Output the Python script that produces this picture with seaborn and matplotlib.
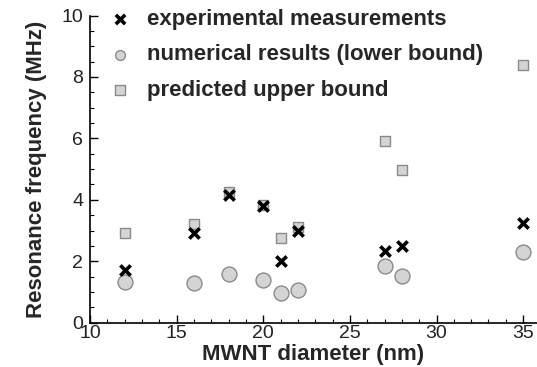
import matplotlib
matplotlib.use("Agg")
import matplotlib.pyplot as plt
import seaborn as sns
from matplotlib.ticker import MultipleLocator

# Data
diameter = [12, 16, 18, 20, 21, 22, 27, 28, 35]
experimental = [1.72, 2.91, 4.16, 3.80, 2.01, 2.97, 2.35, 2.50, 3.26]
lower_bound = [1.32, 1.28, 1.59, 1.39, 0.96, 1.07, 1.83, 1.52, 2.30]
upper_bound = [2.91, 3.22, 4.27, 3.84, 2.75, 3.13, 5.90, 4.98, 8.38]

sns.set_style("ticks")
plt.rcParams['font.family'] = ['Liberation Sans', 'DejaVu Sans']

fig = plt.figure(figsize=(5.37, 3.67), dpi=100)
ax = fig.add_axes([90 / 537, 1 - 322.7 / 367, 447 / 537, 307.2 / 367])

grey_fill = "#d4d4d4"
grey_edge = "#8a8a8a"

sns.scatterplot(x=diameter, y=experimental, ax=ax, marker="x", s=55,
                color="black", linewidth=2.6, label="experimental measurements",
                zorder=4)
sns.scatterplot(x=diameter, y=lower_bound, ax=ax, marker="o", s=115,
                color=grey_fill, edgecolor=grey_edge, linewidth=1.0,
                label="numerical results (lower bound)", zorder=3)
sns.scatterplot(x=diameter, y=upper_bound, ax=ax, marker="s", s=62,
                color=grey_fill, edgecolor=grey_edge, linewidth=1.0,
                label="predicted upper bound", zorder=2)

ax.set_xlim(10, 35.8)
ax.set_ylim(0, 10)
ax.xaxis.set_major_locator(MultipleLocator(5))
ax.xaxis.set_minor_locator(MultipleLocator(1))
ax.yaxis.set_major_locator(MultipleLocator(2))
ax.yaxis.set_minor_locator(MultipleLocator(0.5))
ax.tick_params(which="both", direction="in", labelsize=14, colors="black",
               labelcolor="#222222")
ax.tick_params(which="major", length=6, width=1)
ax.tick_params(which="minor", length=3, width=0.8)
ax.tick_params(axis="x", pad=2)
ax.tick_params(axis="y", pad=5)

sns.despine(ax=ax)
for sp in ["left", "bottom"]:
    ax.spines[sp].set_color("black")
    ax.spines[sp].set_linewidth(1.2)

ax.set_xlabel("MWNT diameter (nm)", fontsize=16, fontweight="bold", labelpad=1)
ax.set_ylabel("Resonance frequency (MHz)", fontsize=16, fontweight="bold")
ax.yaxis.set_label_coords(-0.097, 0.5)

leg = ax.legend(loc="upper left", frameon=False,
                prop={"weight": "bold", "size": 16}, handlelength=1.0,
                handletextpad=0.7, borderpad=0.0, borderaxespad=0.0,
                labelspacing=0.66, bbox_to_anchor=(0.0425, 1.022))
handles = leg.legend_handles
handles[0].set_sizes([45])
handles[1].set_sizes([50])
handles[2].set_sizes([42])

fig.savefig("out.png", dpi=100)
